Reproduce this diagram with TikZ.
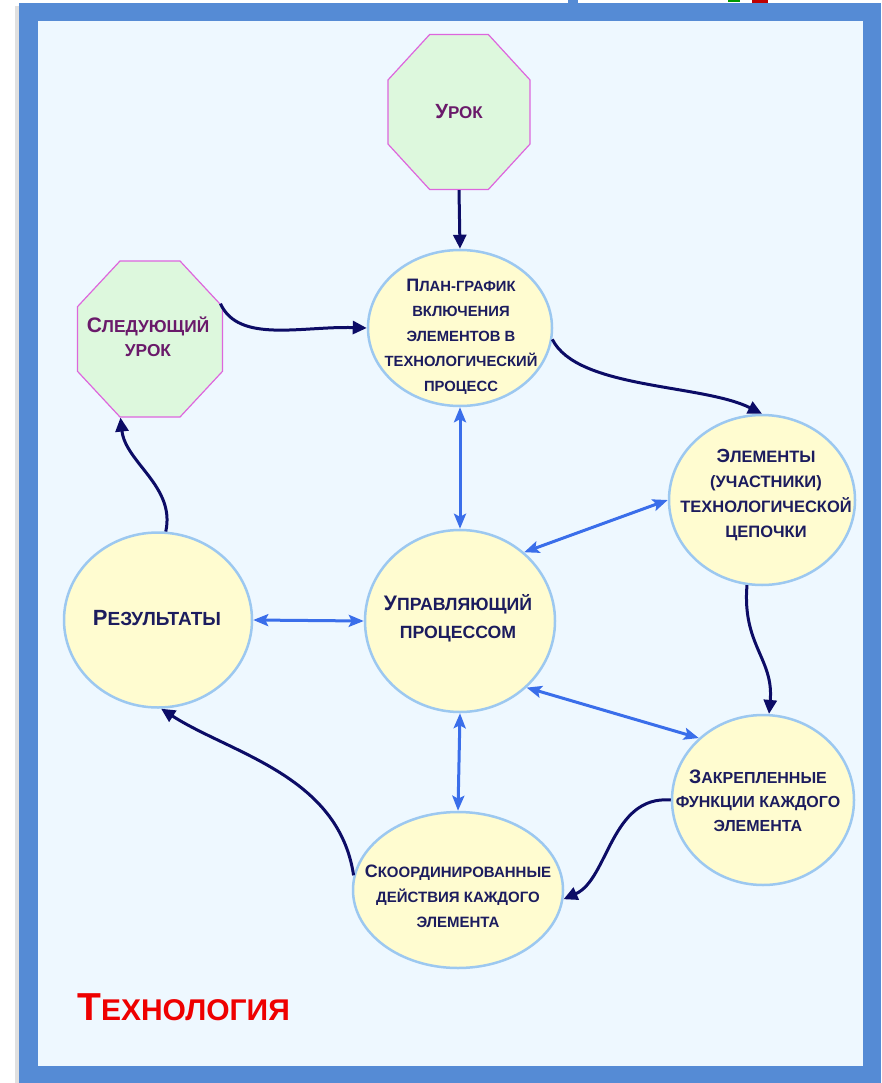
\documentclass[tikz,border=0pt]{standalone}
\usepackage{fontspec}
\setmainfont{Liberation Sans}
\usetikzlibrary{shapes.geometric,arrows.meta}
\definecolor{frameblue}{HTML}{558BD5}
\definecolor{bgblue}{HTML}{EEF8FF}
\definecolor{octfill}{HTML}{DDF8DD}
\definecolor{octdraw}{HTML}{DD66DD}
\definecolor{elfill}{HTML}{FFFCD0}
\definecolor{eldraw}{HTML}{9CC8F0}
\definecolor{navytext}{HTML}{1C1C5E}
\definecolor{purpletext}{HTML}{6A1A6A}
\definecolor{navyarrow}{HTML}{0C0C66}
\definecolor{bluearrow}{HTML}{3A6EEA}
\definecolor{titlered}{HTML}{EE0000}
\newcommand{\fl}[2]{{\fontsize{#1}{#1}\selectfont #2}}
\begin{document}
\begin{tikzpicture}[x=1pt,y=-1pt,
  oval/.style={ellipse, draw=eldraw, line width=2.5pt, fill=elfill, inner sep=0pt},
  octo/.style={regular polygon, regular polygon sides=8, draw=octdraw, line width=1.2pt, fill=octfill, inner sep=0pt, transform shape},
  txt/.style={align=center, text=navytext, inner sep=0pt},
  ptxt/.style={align=center, text=purpletext, inner sep=0pt},
  flow/.style={draw=navyarrow, line width=3pt, -{Triangle[length=14pt,width=13pt]}},
  link/.style={draw=bluearrow, line width=3pt, {Stealth[length=15pt,width=12pt,inset=3pt]}-{Stealth[length=15pt,width=12pt,inset=3pt]}}
]
\useasboundingbox (0,0) rectangle (881,1083);
\fill[white] (0,0) rectangle (881,1083);
\fill[black!12] (15,6) rectangle (19,1083);
\fill[frameblue] (19,3) rectangle (881,1083);
\fill[bgblue] (38,21) rectangle (863,1066);
\fill[frameblue] (568,0) rectangle (578,3);
\fill[green!60!black] (728,0) rectangle (740,2);
\fill[red!75!black] (752,0) rectangle (768,3);

% octagons
\begin{scope}[shift={(459,112)}, xscale=0.916]
  \node[octo, minimum size=167.7pt] (urok) at (0,0) {};
\end{scope}
\begin{scope}[shift={(150,339)}, xscale=0.93]
  \node[octo, minimum size=168.8pt] (next) at (0,0) {};
\end{scope}
\node[ptxt, font=\bfseries\fontsize{17}{24}\selectfont] (urokt) at (459,112) {\fl{20.5}{У}РОК};
\node[ptxt, font=\bfseries\fontsize{17.3}{24}\selectfont] (nextt) at (148,337) {\fl{21}{С}ЛЕДУЮЩИЙ\\УРОК};

% ellipses
\node[oval, minimum width=184pt, minimum height=156pt] (plan) at (460,328) {};
\node[oval, minimum width=186pt, minimum height=170pt] (elem) at (762,500) {};
\node[oval, minimum width=190pt, minimum height=182pt] (upr) at (460,621) {};
\node[oval, minimum width=188pt, minimum height=175pt] (rez) at (158,620) {};
\node[oval, minimum width=182pt, minimum height=170pt] (zak) at (763,800) {};
\node[oval, minimum width=210pt, minimum height=156pt] (sko) at (458,890) {};

\node[txt, font=\bfseries\fontsize{14.8}{25}\selectfont] (plant) at (461,337)
  {\fl{18}{П}ЛАН-ГРАФИК\\ВКЛЮЧЕНИЯ\\ЭЛЕМЕНТОВ В\\ТЕХНОЛОГИЧЕСКИЙ\\ПРОЦЕСС};
\node[txt, font=\bfseries\fontsize{16.5}{25}\selectfont] (elemt) at (766,495)
  {\fl{19}{Э}ЛЕМЕНТЫ\\(УЧАСТНИКИ)\\ТЕХНОЛОГИЧЕСКОЙ\\ЦЕПОЧКИ};
\node[txt, font=\bfseries\fontsize{17.7}{28}\selectfont] (uprt) at (458,618)
  {\fl{21}{У}ПРАВЛЯЮЩИЙ\\ПРОЦЕССОМ};
\node[txt, font=\bfseries\fontsize{19}{28}\selectfont] (rezt) at (157,618)
  {\fl{22}{Р}ЕЗУЛЬТАТЫ};
\node[txt, font=\bfseries\fontsize{16}{24}\selectfont] (zakt) at (758,801)
  {\fl{19.5}{З}АКРЕПЛЕННЫЕ\\ФУНКЦИИ КАЖДОГО\\ЭЛЕМЕНТА};
\node[txt, font=\bfseries\fontsize{15}{25}\selectfont] (skot) at (458,896)
  {\fl{18}{С}КООРДИНИРОВАННЫЕ\\ДЕЙСТВИЯ КАЖДОГО\\ЭЛЕМЕНТА};

\node[anchor=base west, inner sep=0pt, text=titlered, font=\bfseries\fontsize{30}{30}\selectfont] (title) at (77,1020) {\fl{39}{Т}ЕХНОЛОГИЯ};

% navy flow arrows
\draw[flow] (urok.south) -- (plan.north);
\draw[flow] (next.25) .. controls +(18,40) and +(-65,-2) .. (plan.west);
\draw[flow] (plan.-7) .. controls +(25,50) and +(-60,-30) .. (elem.north);
\draw[flow] (elem.-100) .. controls +(-5,60) and +(5,-55) .. (zak.86);
\draw[flow] (zak.west) .. controls +(-60,-5) and +(45,-20) .. (sko.-5);
\draw[flow] (sko.172) .. controls +(-15,-100) and +(70,45) .. (rez.-88);
\draw[flow] (rez.85) .. controls +(10,-45) and +(5,45) .. (next.-112);

% blue links
\draw[link] (plan.south) -- (upr.north);
\draw[link] (elem.west) -- (upr.47);
\draw[link] (rez.east) -- (upr.west);
\draw[link] (upr.-45) -- (zak.136);
\draw[link] (upr.south) -- (sko.north);
\end{tikzpicture}
\end{document}
